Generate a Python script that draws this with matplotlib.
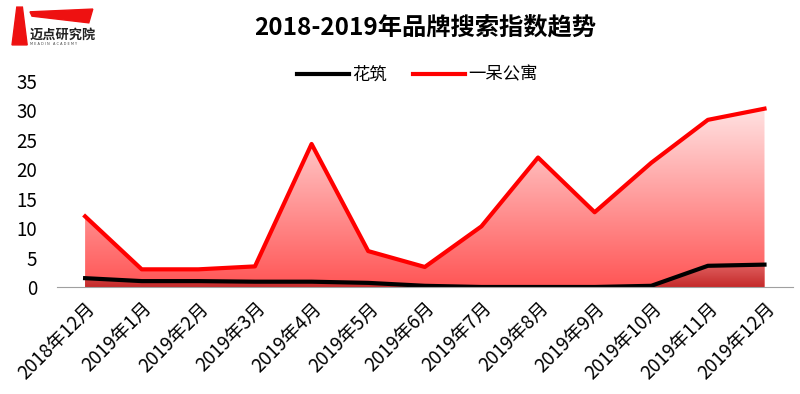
import numpy as np
import matplotlib.pyplot as plt
from matplotlib.colors import LinearSegmentedColormap
from matplotlib.patches import Polygon

plt.rcParams['font.family'] = ['Noto Sans CJK SC', 'DejaVu Sans']

# data
months = ['2018年12月', '2019年1月', '2019年2月', '2019年3月', '2019年4月', '2019年5月',
          '2019年6月', '2019年7月', '2019年8月', '2019年9月', '2019年10月', '2019年11月',
          '2019年12月']
huazhu = [1.5, 1.0, 1.0, 0.9, 0.9, 0.7, 0.2, 0.0, 0.0, 0.0, 0.2, 3.6, 3.8]
yidai = [12.0, 3.0, 3.0, 3.5, 24.3, 6.1, 3.4, 10.3, 22.0, 12.7, 21.1, 28.4, 30.3]

fig = plt.figure(figsize=(8, 3.94), dpi=100)
ax = fig.add_axes([0.071, 0.2716, 0.92, 0.5228])

x = np.arange(len(months))


def grad_fill(xs, ys, top_color, bottom_color, ymax):
    cmap = LinearSegmentedColormap.from_list('g', [bottom_color, top_color])
    img = np.linspace(0, 1, 256).reshape(-1, 1)
    im = ax.imshow(img, cmap=cmap, aspect='auto', origin='lower',
                   extent=[xs[0], xs[-1], 0, ymax], zorder=1)
    verts = [(xs[0], 0)] + list(zip(xs, ys)) + [(xs[-1], 0)]
    poly = Polygon(verts, closed=True, facecolor='none', edgecolor='none')
    ax.add_patch(poly)
    im.set_clip_path(poly)


grad_fill(x, yidai, '#ffe2e2', '#ff5555', max(yidai))
grad_fill(x, huazhu, '#e06060', '#c42a2a', max(huazhu))

ax.plot(x, huazhu, color='black', lw=3, label='花筑', zorder=3)
ax.plot(x, yidai, color='#ff0000', lw=3, label='一呆公寓', zorder=3)

ax.set_xlim(-0.5, len(months) - 0.5)
ax.set_ylim(0, 35)
ax.set_yticks(range(0, 36, 5))
ax.set_xticks(x)
ax.set_xticklabels(months, rotation=45, ha='right', rotation_mode='anchor', fontsize=13.5)
ax.tick_params(axis='y', labelsize=13.5, length=0, pad=14)
ax.tick_params(axis='x', length=0, pad=8)
for s in ['top', 'right', 'left']:
    ax.spines[s].set_visible(False)
ax.spines['bottom'].set_color('#a0a0a0')
ax.spines['bottom'].set_zorder(4)

ax.legend(loc='center', bbox_to_anchor=(0.49, 1.03), ncol=2, frameon=False,
          fontsize=12.5, handlelength=3, columnspacing=1.5, handletextpad=0.2)

fig.text(0.531, 0.928, '2018-2019年品牌搜索指数趋势', ha='center', va='center',
         fontsize=17.5, fontweight='bold')

# logo
fig.patches.append(Polygon([(0.015, 0.886), (0.021, 0.982), (0.028, 0.982), (0.034, 0.886)],
                           closed=True, transform=fig.transFigure, color='#ee1111'))
fig.patches.append(Polygon([(0.0375, 0.970), (0.116, 0.977), (0.111, 0.942), (0.04, 0.959)],
                           closed=True, transform=fig.transFigure, color='#ee1111'))
fig.text(0.037, 0.913, '迈点研究院', fontsize=9.5, fontweight='bold', va='center',
         color='#222222')
fig.text(0.038, 0.889, 'M E A D I N   A C A D E M Y', fontsize=2.5, va='center',
         color='#444444', family='DejaVu Sans')

fig.savefig('out.png', dpi=100)
